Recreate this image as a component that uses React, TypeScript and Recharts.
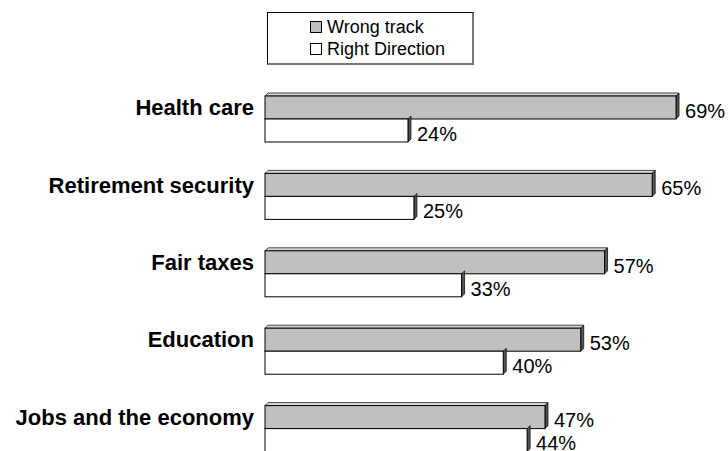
import { Bar, BarChart, LabelList, Legend, XAxis, YAxis } from "recharts";

const categories = ["Health care", "Retirement security", "Fair taxes", "Education", "Jobs and the economy"];
const wrongTrack = [69, 65, 57, 53, 47];
const rightDirection = [24, 25, 33, 40, 44];

const FONT = '"Liberation Sans", Arial, Helvetica, sans-serif';

const data = categories.map((name, i) => ({
  name,
  wrong: wrongTrack[i],
  right: rightDirection[i],
}));

// bar with a little 3D face on top and right, like the old office charts
function makeBar3D(showTop: boolean) {
  return (props: any) => {
    const { x, y, width, height, fill } = props;
    const d = 3;
    return (
      <g>
        {showTop && (
          <polygon
            points={`${x},${y} ${x + d},${y - d} ${x + width + d},${y - d} ${x + width},${y}`}
            fill="#d8d8d8"
            stroke="#000"
            strokeWidth={0.7}
          />
        )}
        <polygon
          points={`${x + width},${y} ${x + width + d},${y - d} ${x + width + d},${y + height - d} ${x + width},${y + height}`}
          fill="#555"
          stroke="#000"
          strokeWidth={0.7}
        />
        <rect x={x} y={y} width={width} height={height} fill={fill} stroke="#000" strokeWidth={1} />
      </g>
    );
  };
}

const renderValue = (props: any) => {
  const { x, y, width, height, value } = props;
  return (
    <text
      x={x + width + 9}
      y={y + height / 2 + 3}
      dy="0.36em"
      fontFamily={FONT}
      fontSize={20}
      fill="#000"
    >
      {`${value}%`}
    </text>
  );
};

const CategoryTick = (props: any) => {
  const { x, y, payload } = props;
  // labels sit level with the first (gray) bar
  return (
    <text
      x={x}
      y={y - 11.5}
      dy="0.36em"
      textAnchor="end"
      fontFamily={FONT}
      fontWeight="bold"
      fontSize={22}
      fill="#000"
    >
      {payload.value}
    </text>
  );
};

const LegendBox = () => {
  const items = [
    { label: "Wrong track", color: "#c0c0c0" },
    { label: "Right Direction", color: "#ffffff" },
  ];
  return (
    <div
      style={{
        width: 207,
        height: 53,
        boxSizing: "border-box",
        border: "1px solid #000",
        borderRight: "2px solid #777",
        borderBottom: "2px solid #777",
        background: "#fff",
        fontFamily: FONT,
        fontSize: 18,
        paddingLeft: 42,
        paddingTop: 3,
      }}
    >
      {items.map((it) => (
        <div key={it.label} style={{ display: "flex", alignItems: "center", height: 22, lineHeight: "22px" }}>
          <span
            style={{
              display: "inline-block",
              width: 10,
              height: 10,
              border: "1px solid #000",
              background: it.color,
              marginRight: 5,
            }}
          />
          <span>{it.label}</span>
        </div>
      ))}
    </div>
  );
};

export default function App() {
  return (
    <div style={{ position: "absolute", left: 0, top: 0, width: 728, height: 451, overflow: "hidden", background: "#fff" }}>
      <BarChart
        width={728}
        height={480}
        data={data}
        layout="vertical"
        margin={{ top: 80, right: 46, bottom: 13, left: 0 }}
        barSize={23}
        barGap={0}
      >
        <XAxis type="number" domain={[0, 70]} hide />
        <YAxis
          type="category"
          dataKey="name"
          width={265}
          axisLine={false}
          tickLine={false}
          tickSize={0}
          tickMargin={11}
          tick={<CategoryTick />}
          interval={0}
        />
        <Legend
          layout="horizontal"
          verticalAlign="middle"
          align="center"
          content={<LegendBox />}
          wrapperStyle={{ position: "absolute", left: 267, top: 12, width: 207, height: 53 }}
        />
        <Bar dataKey="wrong" name="Wrong track" fill="#c0c0c0" shape={makeBar3D(true)} isAnimationActive={false}>
          <LabelList dataKey="wrong" content={renderValue} />
        </Bar>
        <Bar dataKey="right" name="Right Direction" fill="#ffffff" shape={makeBar3D(false)} isAnimationActive={false}>
          <LabelList dataKey="right" content={renderValue} />
        </Bar>
      </BarChart>
    </div>
  );
}
